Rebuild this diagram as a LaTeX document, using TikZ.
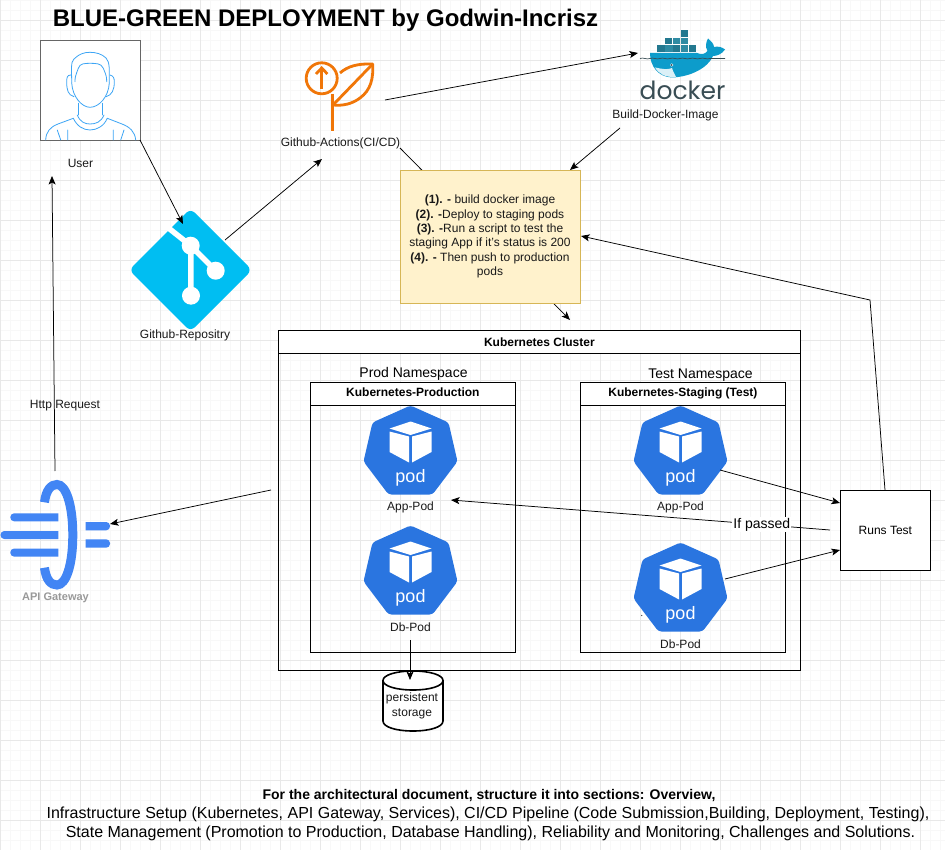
\documentclass[tikz,border=0pt]{standalone}
\usepackage{fontspec}
\setmainfont{Liberation Sans}
\newfontfamily\dockerfont{Poppins}
\usetikzlibrary{arrows.meta}
\definecolor{gridminor}{HTML}{F8F8F8}
\definecolor{gridmajor}{HTML}{E8E8E8}
\definecolor{podblue}{HTML}{2A75E0}
\definecolor{userblue}{HTML}{3DA5F5}
\definecolor{actorange}{HTML}{F07608}
\definecolor{gitblue}{HTML}{00BEF2}
\definecolor{gatewayblue}{HTML}{4285F4}
\definecolor{notefill}{HTML}{FFF2CC}
\definecolor{notedraw}{HTML}{D6B656}
\definecolor{dockdark}{HTML}{394D54}
\definecolor{dockbox}{HTML}{23788F}
\definecolor{dockboxb}{HTML}{2F8BA3}
\definecolor{dockwhale}{HTML}{0D9CCB}
\tikzset{
  conn/.style={draw=black,line width=0.75pt,-{Stealth[length=8.5pt,width=7pt,inset=2pt]}},
  plainbox/.style={draw=black,line width=0.8pt,inner sep=0pt,anchor=north west,align=center},
  lbl/.style={font=\fontsize{12}{14.4}\selectfont,inner sep=0pt,align=center,text=black!90},
  userline/.style={draw=userblue,line width=0.8pt,line cap=round,line join=round},
  podlabel/.style={font=\fontsize{18}{20}\selectfont,text=white,inner sep=0pt}
}
\newcommand{\podicon}[3]{%
  \begin{scope}[shift={(#1,#2)}]
    \fill[podblue,rounded corners=3pt] (0,0) -- (38,17) -- (47,56) -- (22,89) -- (-22,89) -- (-47,56) -- (-38,17) -- cycle;
    \fill[white] (0,16) -- (21,23) -- (0,29.5) -- (-21,23) -- cycle;
    \fill[white] (-21,26) -- (-1.5,31) -- (-1.5,57) -- (-21,46.5) -- cycle;
    \fill[white] (1.5,31) -- (21,26) -- (21,46.5) -- (1.5,57) -- cycle;
    \node[podlabel] (#3) at (0,72) {pod};
  \end{scope}}
\begin{document}
\begin{tikzpicture}[x=1pt,y=-1pt]
\useasboundingbox (0,0) rectangle (945,850);
\fill[white] (0,0) rectangle (945,850);
% grid
\foreach \gx in {0,10,...,940} {\draw[gridminor,line width=0.7pt] (\gx,0) -- (\gx,850);}
\foreach \gy in {0,10,...,850} {\draw[gridminor,line width=0.7pt] (0,\gy) -- (945,\gy);}
\foreach \gx in {0,40,...,920} {\draw[gridmajor,line width=0.7pt] (\gx,0) -- (\gx,850);}
\foreach \gy in {20,60,...,820} {\draw[gridmajor,line width=0.7pt] (0,\gy) -- (945,\gy);}
% title
\node[inner sep=0pt,font=\bfseries\fontsize{24}{28}\selectfont] (title) at (325.5,20) {BLUE-GREEN DEPLOYMENT by Godwin-Incrisz};
% user
\node[plainbox,draw=black!60,fill=white,minimum width=100pt,minimum height=100pt] (user) at (40,40) {};
\draw[userline] (71.7,83) .. controls (71.7,70) and (70.5,62) .. (74,59) .. controls (79,54) and (84,52.3) .. (90,52.3) .. controls (96,52.3) and (102,54) .. (106,58) .. controls (110,62) and (109.3,70) .. (109.3,83);
\draw[userline] (71.7,83) .. controls (72.5,97) and (82,107.3) .. (90,107.3) .. controls (99,107.3) and (108.5,97) .. (109.3,83);
\draw[userline] (75,81.7) .. controls (75,73) and (78,72) .. (78.3,68.3) .. controls (80,63) and (85,63.5) .. (90,63.3) .. controls (96,63.5) and (101,63) .. (103.3,68.3) .. controls (104,72) and (106.7,73) .. (106.7,81.7);
\draw[userline] (70.7,75) .. controls (67,75) and (66.7,78) .. (66.7,82) .. controls (66.7,90) and (68,95) .. (74,96.7);
\draw[userline] (110,75) .. controls (113.5,76) and (114.3,78) .. (114.3,82) .. controls (114.3,90) and (112,95) .. (106,96.7);
\draw[userline] (78.7,103.3) -- (78.7,115);
\draw[userline] (102,103.3) -- (102,115);
\draw[userline] (77.3,115) .. controls (80,122) and (85,124) .. (90,124) .. controls (96,124) and (101,122) .. (104,115);
\draw[userline] (73.3,118.3) .. controls (77,126) and (83,130) .. (90,130) .. controls (97,130) and (104,126) .. (107.3,118.3);
\draw[userline] (73.3,118.3) -- (58,124) .. controls (50,127) and (46,132) .. (45.7,140);
\draw[userline] (107.3,118.3) -- (122,124) .. controls (130,127) and (135,132) .. (135.7,140);
\draw[userline] (57.3,130) -- (60.7,140) (67.7,130) -- (67.7,140) (113.3,130) -- (113.3,140) (124,130) -- (120.7,140);
\node[lbl] (userlabel) at (80.5,163) {User};
% github actions icon
\node[inner sep=0pt,minimum width=70pt,minimum height=70pt] (actions) at (340,97) {};
\begin{scope}[draw=actorange,line width=2.8pt]
  \draw (321.7,78.3) circle[radius=15.5pt];
  \draw (321.7,89) -- (321.7,68);
  \draw (316,74) -- (321.7,68) -- (327.4,74);
  \draw[line join=round] (333,105) -- (372.7,64);
  \draw[line join=round] (340,73) .. controls (348,66) and (358,63.5) .. (372.7,64) .. controls (373.5,78) and (371,90) .. (360,98) .. controls (352,104) and (343,106) .. (333,105);
  \draw (332.7,94) -- (332.7,130.7);
\end{scope}
\node[lbl] (actionslabel) at (340.5,143) {Github-Actions(CI/CD)};
% docker icon
\node[inner sep=0pt,minimum width=84pt,minimum height=70pt] (docker) at (682,66) {};
\fill[dockwhale] (650,53) -- (696,53) -- (697,53) .. controls (702,55) and (705,54) .. (707.5,51) .. controls (705,47) and (706,42) .. (708,38.5) .. controls (711,41) and (714,44) .. (714,47) .. controls (718,46) and (722,47) .. (725,49.5) .. controls (722,54) and (717,56) .. (713,56) .. controls (708,68) and (690,77) .. (672,77.5) .. controls (658,77) and (650,66) .. (650,53) -- cycle;
\fill[white!85!dockwhale] (655,67.5) .. controls (662,69) and (668,70) .. (672,68) .. controls (673,72) and (675,74) .. (676,77) .. controls (665,77.5) and (659,74) .. (655,67.5) -- cycle;
\foreach \dx/\dy/\dc in {680.7/30/dockbox,665/37.6/dockbox,672.9/37.6/dockboxb,680.7/37.6/dockboxb,657.3/45.2/dockbox,665.2/45.2/dockboxb,673/45.2/dockbox,680.9/45.2/dockboxb,688.8/45.2/dockbox}
  {\fill[\dc] (\dx,\dy) rectangle ++(7.4,6.9);}
\draw[dockdark,line width=0.7pt] (640,58.5) .. controls (644,57) and (646,60) .. (650,58.5) .. controls (654,57) and (656,60) .. (660,58.5) .. controls (664,57) and (666,60) .. (670,58.5) .. controls (674,57) and (676,60) .. (680,58.5) .. controls (684,57) and (686,60) .. (690,58.5) .. controls (694,57) and (696,60) .. (700,58.5) .. controls (704,57) and (706,60) .. (710,58.5) -- (725,58.5);
\fill[white] (671.7,65) circle[radius=1.7pt];
\fill[dockdark] (671.7,65) circle[radius=1pt];
\node[inner sep=0pt,font=\dockerfont\fontsize{25}{28}\selectfont,text=dockdark] (dockerword) at (682.5,90.5) {docker};
\node[lbl] (dockerlabel) at (665.5,115) {Build-Docker-Image};
% git icon
\node[inner sep=0pt,minimum width=119pt,minimum height=119pt] (git) at (190.5,270) {};
\fill[gitblue,rounded corners=6pt] (190.5,208.5) -- (252,270) -- (190.5,331.5) -- (129,270) -- cycle;
\draw[white,line width=5.5pt] (168.5,228) -- (190.7,245.7) -- (215.7,270.7);
\draw[white,line width=5.5pt] (190.7,245.7) -- (191,295.7);
\fill[white] (190.7,245.7) circle[radius=9pt] (215.7,270.7) circle[radius=9pt] (191,295.7) circle[radius=9pt];
\node[lbl] (gitlabel) at (185,335) {Github-Repositry};
% connector that runs behind the note
\coordinate (actout) at (400,148);
\coordinate (clusterin) at (570,320);
\draw[conn] (actout) -- (clusterin);
% note
\node[plainbox,draw=notedraw,fill=notefill,minimum width=180pt,minimum height=133pt] (note) at (400,170) {};
\node[inner sep=0pt,align=center,font=\fontsize{12}{14.4}\selectfont,text=black!90] (notetext) at (490,236.5) {%
\textbf{(1). -} build docker image\\
\textbf{(2). -}Deploy to staging pods\\
\textbf{(3). -}Run a script to test the\\
staging App if it's status is 200\\
\textbf{(4). -} Then push to production\\
pods};
% cluster
\node[plainbox,minimum width=522pt,minimum height=340pt] (cluster) at (278,330) {};
\node[plainbox,fill=white,minimum width=522pt,minimum height=23pt,font=\bfseries\fontsize{12}{14.4}\selectfont] (clusterhead) at (278,330) {Kubernetes Cluster};
\node[inner sep=0pt,font=\fontsize{14}{16}\selectfont] (prodns) at (413.5,374) {Prod Namespace};
\node[inner sep=0pt,font=\fontsize{14}{16}\selectfont] (testns) at (700.5,375) {Test Namespace};
\node[plainbox,minimum width=205pt,minimum height=270pt] (prod) at (310,382) {};
\node[plainbox,fill=white,minimum width=205pt,minimum height=23pt,font=\bfseries\fontsize{12}{14.4}\selectfont] (prodhead) at (310,382) {\strut Kubernetes-Production};
\node[plainbox,minimum width=205pt,minimum height=270pt] (stag) at (580,382) {};
\node[plainbox,fill=white,minimum width=205pt,minimum height=23pt,font=\bfseries\fontsize{12}{14.4}\selectfont] (staghead) at (580,382) {\strut Kubernetes-Staging (Test)};
% pods
\podicon{410.5}{405.5}{prodapp}
\podicon{410.5}{525.5}{proddb}
\podicon{680.5}{405.5}{stagapp}
\podicon{680.5}{542.5}{stagdb}
\fill[black!80] (641.7,615.5) circle[radius=0.6pt];
\node[lbl] (prodapplabel) at (410.5,507) {App-Pod};
\node[lbl] (proddblabel) at (410.5,627) {Db-Pod};
\node[lbl] (stagapplabel) at (680.5,507) {App-Pod};
\node[lbl] (stagdblabel) at (680.5,644) {Db-Pod};
% storage
\node[inner sep=0pt,minimum width=60pt,minimum height=60pt] (storage) at (413,701) {};
\draw[black,line width=1.6pt,fill=white] (383,680.5) .. controls (383,675) and (396,671) .. (413,671) .. controls (430,671) and (443,675) .. (443,680.5) -- (443,721) .. controls (443,727) and (430,731) .. (413,731) .. controls (396,731) and (383,727) .. (383,721) -- cycle;
\draw[black,line width=1.6pt] (383,680.5) .. controls (383,686) and (396,690) .. (413,690) .. controls (430,690) and (443,686) .. (443,680.5);
\node[lbl] (storagetext) at (412,705.5) {persistent\\[0.6pt]storage};
% runs test
\node[plainbox,fill=white,minimum width=90pt,minimum height=80pt,font=\fontsize{12}{14.4}\selectfont] (runs) at (840,490) {Runs Test};
% gateway
\node[inner sep=0pt,minimum width=110pt,minimum height=110pt] (gateway) at (55,535) {};
\draw[gatewayblue,line width=9pt] (44.5,502.3) .. controls (46,490) and (51,484.5) .. (57,484.5) .. controls (66,484.5) and (72.8,505) .. (72.8,535) .. controls (72.8,565) and (66,585) .. (57,585) .. controls (51,585) and (46,580) .. (44.5,567.7);
\fill[gatewayblue,rounded corners=3.8pt] (58.3,513.3) -- (10.3,513.3) -- (10.3,521.3) -- (58.3,521.3);
\fill[gatewayblue,rounded corners=3.8pt] (58.3,531) -- (0.5,531) -- (0.5,539) -- (58.3,539);
\fill[gatewayblue,rounded corners=3.8pt] (58.3,548.5) -- (10.3,548.5) -- (10.3,556.6) -- (58.3,556.6);
\fill[gatewayblue,rounded corners=3.8pt] (85.7,522) -- (110,522) -- (110,530.3) -- (85.7,530.3);
\fill[gatewayblue,rounded corners=3.8pt] (85.7,539.3) -- (110,539.3) -- (110,547.7) -- (85.7,547.7);
\node[inner sep=0pt,font=\bfseries\fontsize{11}{13}\selectfont,text=black!40] (gatewaylabel) at (55.5,598) {API Gateway};
% connector ends
\coordinate (userout) at (140,140);
\coordinate (gitin) at (183,224);
\coordinate (gitout) at (225,240);
\coordinate (actin) at (322,159);
\coordinate (actright) at (385,100);
\coordinate (dockin) at (638,53);
\coordinate (dockout) at (620,128);
\coordinate (notein) at (570,170);
\coordinate (runsout) at (885,490);
\coordinate (bend) at (870,300);
\coordinate (noteright) at (581,236);
\coordinate (gwout) at (55,471);
\coordinate (userin) at (52,176);
\coordinate (clusterleft) at (271,490);
\coordinate (gwin) at (110,524);
\coordinate (stagappout) at (720,470);
\coordinate (runsina) at (840,503);
\coordinate (stagdbout) at (725,579);
\coordinate (runsinb) at (840,550);
\coordinate (runsback) at (830,530);
\coordinate (prodappin) at (451,500);
\coordinate (proddbout) at (410,640);
\coordinate (storagein) at (410,680);
% connectors
\node[lbl] (httplabel) at (65,405.5) {Http Request};
\draw[conn] (userout) -- (gitin);
\draw[conn] (gitout) -- (actin);
\draw[conn] (actright) -- (dockin);
\draw[conn] (dockout) -- (notein);
\draw[conn] (runsout) -- (bend) -- (noteright);
\draw[conn] (gwout) -- (userin);
\draw[conn] (clusterleft) -- (gwin);
\draw[conn] (stagappout) -- (runsina);
\draw[conn] (stagdbout) -- (runsinb);
\draw[conn] (runsback) -- node[pos=0.18,fill=white,inner sep=1pt,font=\fontsize{14}{16}\selectfont] (passedlabel) {If passed} (prodappin);
\draw[conn] (proddbout) -- (storagein);
% footer
\node[inner sep=0pt,font=\bfseries\fontsize{14}{16}\selectfont] (foot1) at (489,796) {For the architectural document, structure it into sections: Overview,};
\node[inner sep=0pt,font=\fontsize{16}{18}\selectfont] (foot2) at (488,814) {Infrastructure Setup (Kubernetes, API Gateway, Services), CI/CD Pipeline (Code Submission,Building, Deployment, Testing),};
\node[inner sep=0pt,font=\fontsize{16}{18}\selectfont] (foot3) at (490.5,833) {State Management (Promotion to Production, Database Handling), Reliability and Monitoring, Challenges and Solutions.};
\end{tikzpicture}
\end{document}
